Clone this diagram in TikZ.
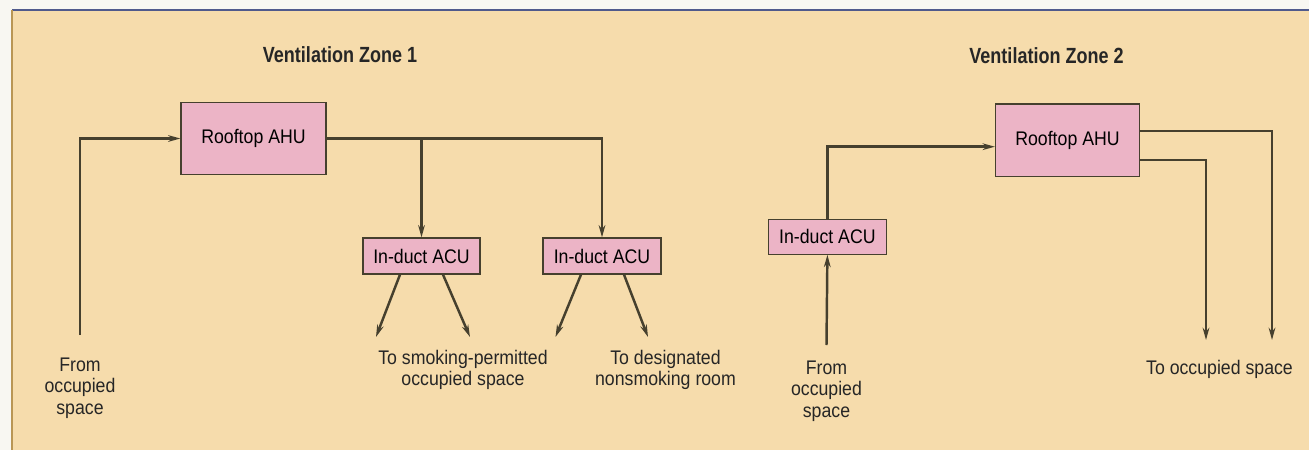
\documentclass[tikz,border=0pt]{standalone}
\usepackage{fontspec}
\setmainfont[FakeStretch=0.9]{Liberation Sans}
\newfontfamily\titelfont[FakeStretch=0.82]{Liberation Sans}
\usepackage{tikz}
\usetikzlibrary{positioning}
\usetikzlibrary{calc}
\usetikzlibrary{arrows.meta}
\definecolor{papier}{RGB}{248,247,242}
\definecolor{hintergrund}{RGB}{246,220,172}
\definecolor{kasten}{RGB}{236,180,198}
\definecolor{linie}{RGB}{70,64,46}
\definecolor{rahmenblau}{RGB}{80,90,140}
\definecolor{rahmenbraun}{RGB}{185,150,85}

\begin{document}
\begin{tikzpicture}[
x=0.02cm, y=-0.02cm,
font=\fontsize{11.2}{12.2}\selectfont,
>={Stealth[length=7pt,width=3.8pt]},   %Voreinstellung fuer Pfeilspitzen
geraet/.style={draw=linie, fill=kasten, line width=0.7pt, inner sep=0pt},
leitung/.style={draw=linie, line width=1.4pt},
titel/.style={font=\titelfont\bfseries\fontsize{12.5}{14}\selectfont, text=black!85},
beschriftung/.style={align=center, text=black!85, inner sep=0pt}
]
\useasboundingbox (0,0) rectangle (1309,450);

% Hintergrund
\fill[papier] (0,0) rectangle (1309,450);
\fill[hintergrund] (12,10) rectangle (1309,450);
\draw[rahmenblau, line width=0.6pt] (1309,10) -- (12,10);
\draw[rahmenbraun, line width=0.8pt] (12,10) -- (12,450);

% Zone 1
\node[titel] (titel1) at (340,55) {Ventilation Zone 1};
\node[geraet, minimum width=2.9cm, minimum height=1.45cm] (ahu1) at (253.5,138.5) {Rooftop AHU};
\node[geraet, minimum width=2.34cm, minimum height=0.72cm] (acu1) at (421.5,256) {In-duct ACU};
\node[geraet, minimum width=2.36cm, minimum height=0.72cm] (acu2) at (602,256) {In-duct ACU};

\node[beschriftung] (von1) at (80,388) {From\\occupied\\space};
\node[beschriftung] (raucher) at (463,370) {To smoking-permitted\\occupied space};
\node[beschriftung] (nichtraucher) at (665.5,370) {To designated\\nonsmoking room};

\coordinate (q1) at (80,335);
\coordinate (r1) at (376,337);
\coordinate (r2) at (470,337);
\coordinate (n1) at (555.5,337);
\coordinate (n2) at (648,337);

% Leitungen Zone 1
\draw[leitung,->] (q1) |- (ahu1.west);
\draw[leitung,->] (ahu1.east) -| (acu2.north);
\draw[leitung,->] (ahu1.east -| acu1.north) -- (acu1.north);
\draw[leitung,->] ($(acu1.south)+(-21.5,0)$) -- (r1);
\draw[leitung,->] ($(acu1.south)+(21.5,0)$) -- (r2);
\draw[leitung,->] ($(acu2.south)+(-21,0)$) -- (n1);
\draw[leitung,->] ($(acu2.south)+(22,0)$) -- (n2);

% Zone 2
\node[titel] (titel2) at (1046.5,56) {Ventilation Zone 2};
\node[geraet, minimum width=2.88cm, minimum height=1.45cm] (ahu2) at (1067.5,140.3) {Rooftop AHU};
\node[geraet, minimum width=2.36cm, minimum height=0.7cm] (acu3) at (827.4,236.7) {In-duct ACU};

\node[beschriftung] (von2) at (826.5,391) {From\\occupied\\space};
\node[beschriftung] (raum) at (1219.5,369) {To occupied space};

\coordinate (q2) at (826.5,345);
\coordinate (z1) at (1206,340);
\coordinate (z2) at (1272,340);

% Leitungen Zone 2
\draw[leitung,->] (q2) -- (acu3.south);
\draw[leitung,->] (acu3.north) |- ($(ahu2.west)+(0,6.4)$);
\draw[leitung,->] ($(ahu2.east)+(0,-9.3)$) -| (z2);
\draw[leitung,->] ($(ahu2.east)+(0,19.7)$) -| (z1);
\end{tikzpicture}
\end{document}
